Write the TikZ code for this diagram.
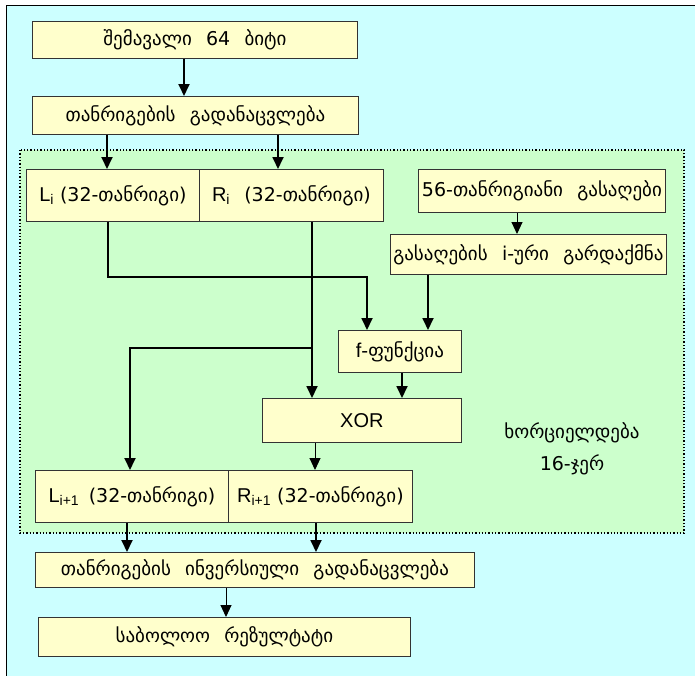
\documentclass[tikz,border=0pt]{standalone}
\usepackage{fontspec}
\setmainfont{DejaVu Sans}
\newfontfamily\lat{Liberation Sans}
\usetikzlibrary{arrows.meta}
\definecolor{bgcyan}{HTML}{CCFFFF}
\definecolor{bggreen}{HTML}{CCFFCC}
\definecolor{boxfill}{HTML}{FFFFCC}
\definecolor{boxline}{HTML}{333333}
\newcommand{\gsp}{\hspace{0.75em}}
\newcommand{\latl}[1]{{\lat\fontsize{20}{22}\selectfont #1}}
\begin{document}
\begin{tikzpicture}[x=1pt,y=-1pt,
  box/.style={draw=boxline, fill=boxfill, line width=0.8pt, inner sep=0pt, anchor=north west, font=\fontsize{19}{22}\selectfont},
  arr/.style={line width=1.8pt, -{Triangle[length=12pt,width=11pt]}},
  arrt/.style={line width=1pt, -{Triangle[length=12pt,width=11pt]}}]
\useasboundingbox (0,0) rectangle (695,675);
\fill[white] (0,0) rectangle (695,675);
\draw[fill=bgcyan, line width=1pt] (6,5) rectangle (705,690);
\draw[fill=bggreen, dotted, line width=1.3pt] (20,150) rectangle (684,533);
\node[box, minimum width=325pt, minimum height=37pt] (in) at (32,21) {შემავალი\gsp 64\gsp ბიტი};
\node[box, minimum width=326pt, minimum height=38pt] (perm) at (32,96) {თანრიგების\gsp გადანაცვლება};
\node[box, minimum width=173pt, minimum height=52pt] (Li) at (26,169) {\latl{L\textsubscript{i}} (32-თანრიგი)};
\node[box, minimum width=184pt, minimum height=52pt] (Ri) at (199,169) {\latl{R\textsubscript{i}}\gsp (32-თანრიგი)};
\node[box, minimum width=247pt, minimum height=43pt] (key) at (418,169) {56-თანრიგიანი\gsp გასაღები};
\node[box, minimum width=276pt, minimum height=40pt] (keyt) at (390,234) {გასაღების\gsp i-ური\gsp გარდაქმნა};
\node[box, minimum width=123pt, minimum height=42pt] (f) at (338,330) {\latl{f}-ფუნქცია};
\node[box, minimum width=199pt, minimum height=44pt] (xor) at (262,398) {\latl{XOR}};
\node[box, minimum width=193pt, minimum height=52pt] (Li1) at (35,470) {\latl{L\textsubscript{i+1}}\hspace{0.5em}(32-თანრიგი)};
\node[box, minimum width=184pt, minimum height=52pt] (Ri1) at (228,470) {\latl{R\textsubscript{i+1}} (32-თანრიგი)};
\node[box, minimum width=439pt, minimum height=35pt] (inv) at (35,552) {თანრიგების\gsp ინვერსიული\gsp გადანაცვლება};
\node[box, minimum width=372pt, minimum height=39pt] (res) at (38,617) {საბოლოო\gsp რეზულტატი};
\node[align=center, font=\fontsize{19}{32}\selectfont] (lbl) at (572,449) {ხორციელდება\\16-ჯერ};
\coordinate (lj) at (367,277);
\coordinate (rb) at (312,348);
\draw[arr] (184,0 |- in.south) -- (184,0 |- perm.north);
\draw[arr] (107,0 |- perm.south) -- (107,0 |- Li.north);
\draw[arr] (278,0 |- perm.south) -- (278,0 |- Ri.north);
\draw[arrt] (517,0 |- key.south) -- (517,0 |- keyt.north);
\draw[arr] (428,0 |- keyt.south) -- (428,0 |- f.north);
\draw[arr] (108,0 |- Li.south) |- (lj) -- (367,0 |- f.north);
\draw[arr] (312,0 |- Ri.south) -- (312,0 |- xor.north);
\draw[arr] (rb) -| (130,0 |- Li1.north);
\draw[arr] (402,0 |- f.south) -- (402,0 |- xor.north);
\draw[arrt] (315,0 |- xor.south) -- (315,0 |- Ri1.north);
\draw[arr] (127,0 |- Li1.south) -- (127,0 |- inv.north);
\draw[arr] (316,0 |- Ri1.south) -- (316,0 |- inv.north);
\draw[arrt] (226,0 |- inv.south) -- (226,0 |- res.north);
\end{tikzpicture}
\end{document}
